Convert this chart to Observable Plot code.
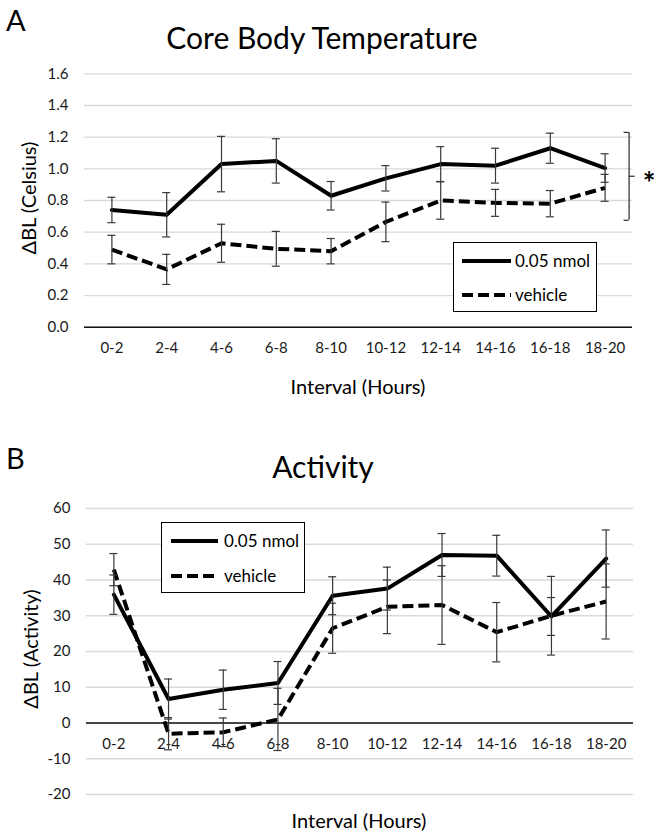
<!DOCTYPE html>
<html><head><meta charset="utf-8">
<script src="https://cdn.jsdelivr.net/npm/d3@7"></script>
<script src="https://cdn.jsdelivr.net/npm/@observablehq/plot@0.6"></script>
<style>
body{margin:0;background:#fff;font-family:Lato,"Noto Sans",sans-serif;}
#wrap{position:relative;width:657px;height:834px;overflow:hidden;background:#fff;}
.abs{position:absolute;white-space:nowrap;color:#000;line-height:1;}
.panel{position:absolute;left:0;}
.ytitle{transform:translate(-50%,-50%) rotate(-90deg);font-size:20px;}
.xtitle{transform:translate(-50%,-50%);font-size:20px;}
.legend{position:absolute;border:1.5px solid #000;box-sizing:border-box;background:#fff;}
.legend .item{position:absolute;font-size:17px;line-height:1;}
</style></head><body><div id="wrap"></div>
<script>
const intervals = ["0-2","2-4","4-6","6-8","8-10","10-12","12-14","14-16","16-18","18-20"];
const seriesNames = ["0.05 nmol","vehicle"];

// Panel A: core body temperature (ΔBL, °C)
const tempDrug    = [0.74, 0.71, 1.03, 1.05, 0.83, 0.94, 1.03, 1.02, 1.13, 1.005];
const tempDrugErr = [0.08, 0.14, 0.175, 0.14, 0.09, 0.08, 0.11, 0.11, 0.095, 0.09];
const tempVeh     = [0.49, 0.365, 0.53, 0.495, 0.48, 0.665, 0.80, 0.785, 0.78, 0.88];
const tempVehErr  = [0.09, 0.095, 0.12, 0.11, 0.08, 0.125, 0.118, 0.085, 0.083, 0.085];
const tempTicks   = [0, 0.2, 0.4, 0.6, 0.8, 1.0, 1.2, 1.4, 1.6];
const sigBracket  = {top: 1.23, bottom: 0.675, mid: 0.953, label: "*"};

// Panel B: activity (ΔBL counts)
const actDrug     = [35.9, 6.7, 9.3, 11.2, 35.6, 37.6, 47.0, 46.8, 29.8, 46.0];
const actDrugErr  = [5.5, 5.6, 5.5, 6.0, 5.3, 6.0, 6.0, 5.7, 5.3, 8.0];
const actVeh      = [42.9, -3.0, -2.6, 1.0, 26.5, 32.5, 33.0, 25.4, 30.0, 34.0];
const actVehErr   = [4.5, 4.5, 4.0, 8.7, 7.0, 7.5, 11.0, 8.3, 11.0, 10.5];
const actTicks    = [-20, -10, 0, 10, 20, 30, 40, 50, 60];

const seriesStyle = [
  {dash: null, cap: "round"},
  {dash: "11,5", cap: "butt"}
];

function rows(vals, errs, name){
  return intervals.map((iv,i)=>({idx: i, interval: iv, value: vals[i], err: errs[i], series: name}));
}

function panel({drug, veh, ticks, fmt, height, mt, mb, ml, mr, extra}){
  const all = drug.concat(veh);
  const step = (657 - ml - mr) / intervals.length;   // pixels per category
  const px = p => p / step;                            // pixel offset -> x units
  const errStyle = {stroke:"#383838", strokeWidth:1.2};
  return Plot.plot({
    width: 657, height,
    marginTop: mt, marginBottom: mb, marginLeft: ml, marginRight: mr,
    style: {fontFamily: "Lato, 'Noto Sans', sans-serif", background: "#fff", overflow: "visible"},
    x: {type: "linear", domain: [-0.5, intervals.length - 0.5], axis: null},
    y: {domain: [ticks[0], ticks[ticks.length-1]], axis: null},
    marks: [
      Plot.gridY(ticks, {stroke: "#d9d9d9", strokeOpacity: 1, strokeWidth: 1.3}),
      Plot.ruleY([0], {stroke: "#111", strokeWidth: 1.5}),
      Plot.axisY(ticks, {tickSize: 0, tickPadding: 16, tickFormat: fmt, fontSize: 15, fill: "#1a1a1a", label: null}),
      Plot.text(intervals, {x: (d,i)=>i, y: ()=>0, text: d=>d, lineAnchor: "top", dy: 15, fontSize: 15, fill: "#1a1a1a"}),
      Plot.line(drug, {x: "idx", y: "value", stroke: "#000", strokeWidth: 4, strokeLinecap: seriesStyle[0].cap, strokeLinejoin: "round"}),
      Plot.line(veh, {x: "idx", y: "value", stroke: "#000", strokeWidth: 4, strokeDasharray: seriesStyle[1].dash, strokeLinecap: seriesStyle[1].cap, strokeLinejoin: "round"}),
      Plot.ruleX(all, {x: "idx", y1: d=>d.value-d.err, y2: d=>d.value+d.err, ...errStyle}),
      Plot.ruleY(all, {x1: d=>d.idx-px(4), x2: d=>d.idx+px(4), y: d=>d.value+d.err, ...errStyle}),
      Plot.ruleY(all, {x1: d=>d.idx-px(4), x2: d=>d.idx+px(4), y: d=>d.value-d.err, ...errStyle}),
      ...(extra ? extra(px) : [])
    ]
  });
}

const wrap = document.getElementById("wrap");
const lastIdx = intervals.length - 1;

function addText(txt, cls, style){
  const d = document.createElement("div");
  d.className = "abs " + (cls||"");
  d.textContent = txt;
  Object.assign(d.style, style);
  wrap.appendChild(d);
  return d;
}

function addLegend(left, top, w, h, lineLeft, lineW, textLeft, rowYs){
  const box = document.createElement("div");
  box.className = "legend";
  Object.assign(box.style, {left: left+"px", top: top+"px", width: w+"px", height: h+"px"});
  seriesNames.forEach((name, i)=>{
    const svg = d3.create("svg").attr("width", lineW).attr("height", 8)
      .style("position","absolute").style("left", lineLeft+"px").style("top", (rowYs[i]-4)+"px");
    svg.append("line").attr("x1", 0).attr("x2", lineW).attr("y1", 4).attr("y2", 4)
      .attr("stroke", "#000").attr("stroke-width", 4)
      .attr("stroke-dasharray", seriesStyle[i].dash).attr("stroke-linecap", "butt");
    box.appendChild(svg.node());
    const t = document.createElement("div");
    t.className = "item";
    t.textContent = name;
    Object.assign(t.style, {left: textLeft+"px", top: (rowYs[i]-9)+"px"});
    box.appendChild(t);
  });
  wrap.appendChild(box);
}

// ---------- Panel A ----------
const sigStyle = {stroke: "#383838", strokeWidth: 1.3};
const chartA = panel({
  drug: rows(tempDrug, tempDrugErr, seriesNames[0]),
  veh: rows(tempVeh, tempVehErr, seriesNames[1]),
  ticks: tempTicks, fmt: d3.format(".1f"),
  height: 400, mt: 73.3, mb: 73.3, ml: 84, mr: 25,
  extra: px => [
    Plot.ruleX([sigBracket], {x: ()=>lastIdx + px(24), y1: "top", y2: "bottom", ...sigStyle}),
    Plot.ruleY([sigBracket.top, sigBracket.bottom], {x1: ()=>lastIdx + px(19), x2: ()=>lastIdx + px(24), y: d=>d, ...sigStyle}),
    Plot.ruleY([sigBracket.mid], {x1: ()=>lastIdx + px(24), x2: ()=>lastIdx + px(30), y: d=>d, ...sigStyle}),
    Plot.text([sigBracket], {x: ()=>lastIdx + px(44), y: "mid", text: "label", dy: 8, fontSize: 30, fontWeight: "bold", fill: "#000"})
  ]
});
chartA.classList.add("panel");
chartA.style.top = "0px";
wrap.appendChild(chartA);

addText("A", "", {left: "6px", top: "5px", fontSize: "29px"});
addText("Core Body Temperature", "", {left: "322px", top: "37px", fontSize: "30px", transform: "translate(-50%,-50%)"});
addText("ΔBL (Celsius)", "ytitle", {left: "28px", top: "198px"});
addText("Interval (Hours)", "xtitle", {left: "358px", top: "386px"});
addLegend(453, 242, 144, 70, 8, 49, 61, [18, 52]);

// ---------- Panel B ----------
const chartB = panel({
  drug: rows(actDrug, actDrugErr, seriesNames[0]),
  veh: rows(actVeh, actVehErr, seriesNames[1]),
  ticks: actTicks, fmt: d=>String(d),
  height: 414, mt: 88, mb: 40, ml: 86, mr: 24
});
chartB.classList.add("panel");
chartB.style.top = "420px";
wrap.appendChild(chartB);

addText("B", "", {left: "6px", top: "443px", fontSize: "29px"});
addText("Activity", "", {left: "323px", top: "466px", fontSize: "30px", transform: "translate(-50%,-50%)"});
addText("ΔBL (Activity)", "ytitle", {left: "30px", top: "649px"});
addText("Interval (Hours)", "xtitle", {left: "359px", top: "820px"});
addLegend(161, 522, 144, 71, 9, 47, 62, [17.5, 52.5]);
</script></body></html>
